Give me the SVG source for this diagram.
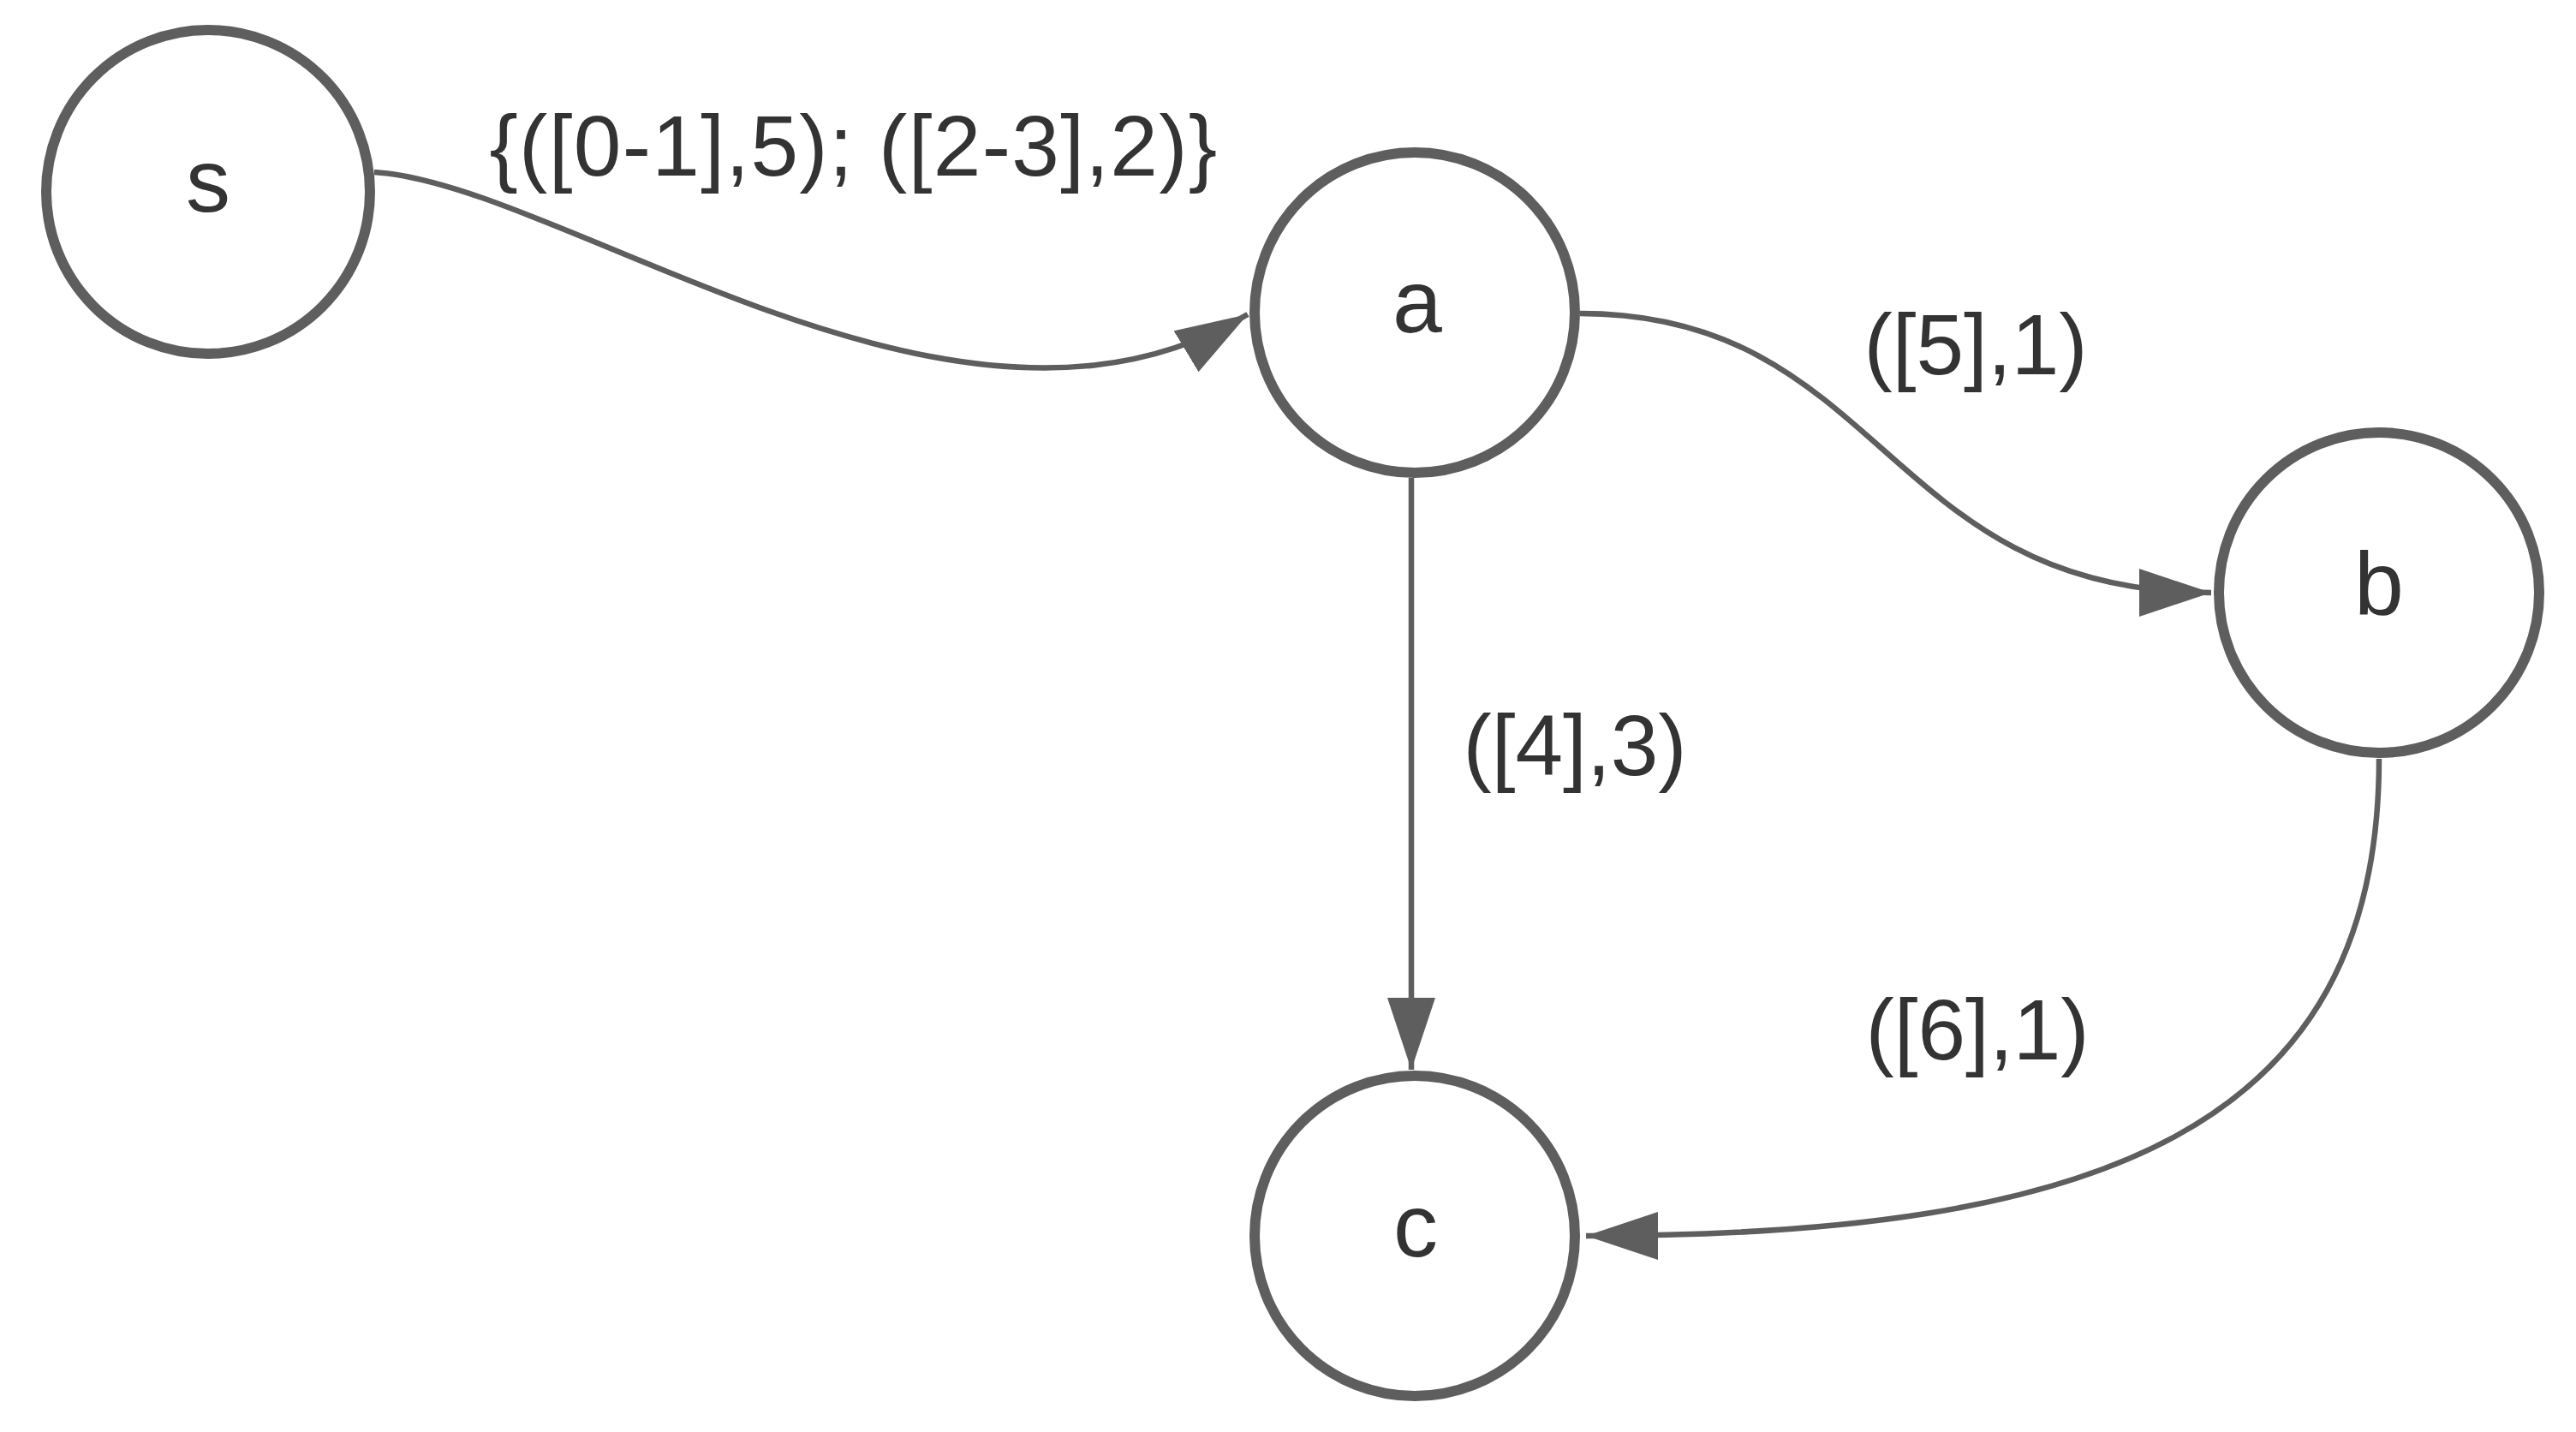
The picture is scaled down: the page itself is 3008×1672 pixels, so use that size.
<svg xmlns="http://www.w3.org/2000/svg" width="3008" height="1672" viewBox="0 0 3008 1672">
<style>
.node circle{fill:#ffffff;stroke:#5e5e5e;stroke-width:12}
.node text{font-family:"Liberation Sans",Arial,sans-serif;font-size:104px;fill:#333333;text-anchor:middle}
.edge{fill:none;stroke:#5e5e5e;stroke-width:6.5}
.lbl{font-family:"Liberation Sans",Arial,sans-serif;font-size:100px;fill:#333333;text-anchor:middle}
</style>
<defs>
<marker id="arr" markerUnits="userSpaceOnUse" markerWidth="90" markerHeight="60" refX="84" refY="28" orient="auto">
<path d="M0,0 L84,28 L0,56 Z" fill="#5e5e5e"/>
</marker>
</defs>
<rect width="3008" height="1672" fill="#ffffff"/>
<g id="connectors">
<path class="edge" d="M437,201 C660,215 1120,570 1457,367" marker-end="url(#arr)"/>
<path class="edge" d="M1845,366 C2200,366 2200,692 2582,692" marker-end="url(#arr)"/>
<path class="edge" d="M1648,558 L1648,1249" marker-end="url(#arr)"/>
<path class="edge" d="M2778,886 C2778,1320 2450,1443 1852,1443" marker-end="url(#arr)"/>
<text class="lbl" x="997" y="205" font-size="102" letter-spacing="1.3">{([0-1],5); ([2-3],2)}</text>
<text class="lbl" x="2307" y="437">([5],1)</text>
<text class="lbl" x="1839" y="905">([4],3)</text>
<text class="lbl" x="2309" y="1237">([6],1)</text>
</g>
<g id="node-s" class="node"><circle cx="243" cy="224" r="189"/><text x="243" y="247">s</text></g>
<g id="node-a" class="node"><circle cx="1652" cy="365" r="187"/><text x="1655" y="388">a</text></g>
<g id="node-b" class="node"><circle cx="2778" cy="692" r="187"/><text x="2778" y="717">b</text></g>
<g id="node-c" class="node"><circle cx="1652" cy="1443" r="187"/><text x="1653" y="1467">c</text></g>
</svg>
